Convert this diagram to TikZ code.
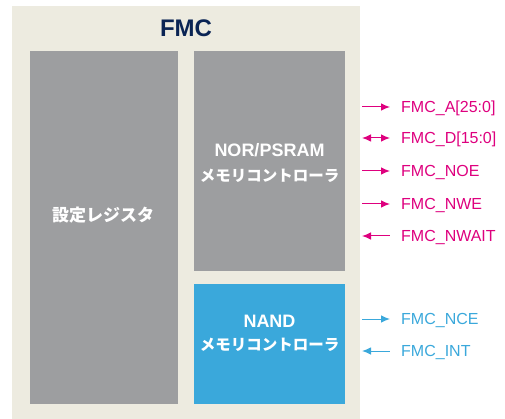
\documentclass[tikz,border=0pt]{standalone}
\usepackage{fontspec}
\setmainfont{Liberation Sans}
\newfontfamily\jp{Noto Sans CJK JP}
\usetikzlibrary{arrows.meta}
\definecolor{beige}{RGB}{237,235,224}
\definecolor{boxgray}{RGB}{157,158,160}
\definecolor{nandblue}{RGB}{58,168,219}
\definecolor{navy}{RGB}{10,36,84}
\definecolor{mag}{RGB}{222,0,126}
\tikzset{
  block/.style={draw=none, inner sep=0pt},
  boxtext/.style={text=white, font=\bfseries\fontsize{18}{24}\selectfont, align=center, inner sep=0pt},
  sig/.style={anchor=west, inner sep=0pt, text height=11.5pt, text depth=0pt, font=\fontsize{16}{18}\selectfont},
  tip/.tip={Latex[length=9pt,width=7.5pt]},
  wire/.style={line width=1pt, -tip, shorten >=11pt},
  bwire/.style={line width=1pt, tip-tip, shorten >=11pt},
  iwire/.style={line width=1pt, tip-, shorten >=11pt}
}
\begin{document}
\begin{tikzpicture}[x=1pt,y=-1pt]
\useasboundingbox (0,0) rectangle (505,419);
\fill[beige] (12,6) rectangle (360,419);
\node[font=\bfseries\fontsize{24}{28}\selectfont, text=navy] (title) at (186,28) {FMC};
\node[block, fill=boxgray, minimum width=148pt, minimum height=353pt] (reg) at (104,227.5) {};
\node[block, fill=boxgray, minimum width=151pt, minimum height=220pt] (nor) at (269.5,161) {};
\node[block, fill=nandblue, minimum width=151pt, minimum height=120pt] (nand) at (269.5,344) {};
\node[boxtext] (regt) at (103,215) {\jp\fontsize{17}{24}\selectfont 設定レジスタ};
\node[boxtext] (nort) at (269.5,163) {NOR/PSRAM\\[1pt]{\jp\fontsize{15.5}{20}\selectfont メモリコントローラ}};
\node[boxtext] (nandt) at (269.5,333) {NAND\\[-1pt]{\jp\fontsize{15.5}{20}\selectfont メモリコントローラ}};
% signals
\node[sig, text=mag] (sa) at (401,107) {FMC\_A[25:0]};
\node[sig, text=mag] (sd) at (401,138) {FMC\_D[15:0]};
\node[sig, text=mag] (soe) at (401,171) {FMC\_NOE};
\node[sig, text=mag] (swe) at (401,204) {FMC\_NWE};
\node[sig, text=mag] (swait) at (401,236) {FMC\_NWAIT};
\node[sig, text=nandblue] (snce) at (401,319) {FMC\_NCE};
\node[sig, text=nandblue] (sint) at (401,351) {FMC\_INT};
\coordinate (pa) at (362,107);
\coordinate (pd) at (362,138);
\coordinate (poe) at (362,171);
\coordinate (pwe) at (362,204);
\coordinate (pwait) at (362,236);
\coordinate (pnce) at (362,319);
\coordinate (pint) at (362,351);
\draw[wire, mag] (pa) -- (pa -| sa.west);
\draw[bwire, mag] (pd) -- (pd -| sd.west);
\draw[wire, mag] (poe) -- (poe -| soe.west);
\draw[wire, mag] (pwe) -- (pwe -| swe.west);
\draw[iwire, mag] (pwait) -- (pwait -| swait.west);
\draw[wire, nandblue] (pnce) -- (pnce -| snce.west);
\draw[iwire, nandblue] (pint) -- (pint -| sint.west);
\end{tikzpicture}
\end{document}
